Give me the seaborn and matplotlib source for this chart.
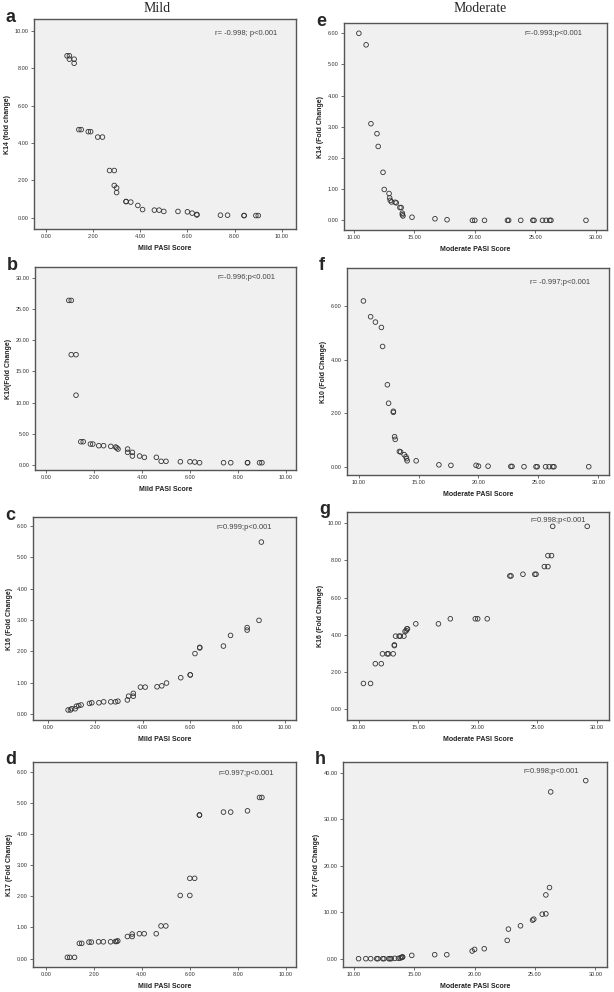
import numpy as np
import pandas as pd
import seaborn as sns
import matplotlib.pyplot as plt
from matplotlib.ticker import FormatStrFormatter

# ---- Data ----
# a: K14 vs mild PASI
a_x = [0.9, 1.0, 1.0, 1.2, 1.2, 1.4, 1.5, 1.8, 1.9, 2.2, 2.4, 2.7, 2.9, 2.9, 3.0, 3.0, 3.4, 3.4, 3.6,
       3.9, 4.1, 4.6, 4.8, 5.0, 5.6, 6.0, 6.2, 6.4, 6.4, 7.4, 7.7, 8.4, 8.4, 8.9, 9.0]
a_y = [8.67, 8.67, 8.49, 8.49, 8.27, 4.72, 4.72, 4.61, 4.61, 4.32, 4.32, 2.53, 2.53, 1.73, 1.60, 1.35,
       0.87, 0.87, 0.84, 0.66, 0.44, 0.41, 0.41, 0.34, 0.34, 0.32, 0.25, 0.18, 0.15, 0.14, 0.14, 0.12,
       0.12, 0.12, 0.12]
# b: K10 vs mild PASI
b_x = [0.95, 1.05, 1.05, 1.25, 1.25, 1.45, 1.55, 1.85, 1.95, 2.2, 2.4, 2.7, 2.9, 2.95, 3.0, 3.4, 3.4,
       3.6, 3.6, 3.9, 4.1, 4.6, 4.8, 5.0, 5.6, 6.0, 6.2, 6.4, 7.4, 7.7, 8.4, 8.4, 8.9, 9.0]
b_y = [26.4, 26.4, 17.7, 17.7, 11.2, 3.74, 3.74, 3.36, 3.36, 3.10, 3.10, 2.99, 2.88, 2.75, 2.56, 2.56,
       2.03, 2.03, 1.44, 1.44, 1.23, 1.23, 0.59, 0.59, 0.53, 0.53, 0.48, 0.37, 0.37, 0.37, 0.37, 0.37,
       0.37, 0.37]
# c: K16 vs mild PASI
c_x = [0.85, 0.95, 1.0, 1.15, 1.2, 1.3, 1.4, 1.75, 1.85, 2.15, 2.35, 2.65, 2.85, 2.95, 3.35, 3.4, 3.6,
       3.6, 3.9, 4.1, 4.6, 4.8, 5.0, 5.6, 6.0, 6.0, 6.2, 6.4, 6.4, 7.4, 7.7, 8.4, 8.4, 8.9, 9.0]
c_y = [0.13, 0.13, 0.17, 0.17, 0.25, 0.27, 0.29, 0.34, 0.36, 0.36, 0.39, 0.39, 0.39, 0.41, 0.45, 0.57,
       0.57, 0.66, 0.86, 0.86, 0.87, 0.90, 0.99, 1.16, 1.25, 1.25, 1.93, 2.11, 2.13, 2.17, 2.51, 2.68,
       2.76, 2.99, 5.49]
# d: K17 vs mild PASI
d_x = [0.9, 1.0, 1.2, 1.4, 1.5, 1.8, 1.9, 2.2, 2.4, 2.7, 2.9, 2.95, 3.0, 3.4, 3.6, 3.6, 3.9, 4.1, 4.6,
       4.8, 5.0, 5.6, 6.0, 6.0, 6.2, 6.4, 6.4, 7.4, 7.7, 8.4, 8.9, 9.0]
d_y = [0.04, 0.04, 0.04, 0.49, 0.49, 0.53, 0.53, 0.54, 0.54, 0.54, 0.55, 0.55, 0.57, 0.71, 0.71, 0.79,
       0.80, 0.80, 0.80, 1.05, 1.05, 2.03, 2.03, 2.58, 2.58, 4.62, 4.61, 4.71, 4.71, 4.75, 5.18, 5.18]
# e: K14 vs moderate PASI
e_x = [10.4, 11.0, 11.4, 11.9, 12.0, 12.4, 12.5, 12.9, 12.95, 13.0, 13.1, 13.4, 13.5, 13.8, 13.9,
       14.0, 14.0, 14.05, 14.8, 16.7, 17.7, 19.8, 20.0, 20.8, 22.7, 22.8, 23.8, 24.8, 24.9, 25.6, 25.9,
       26.2, 26.3, 29.2]
e_y = [6.0, 5.63, 3.10, 2.78, 2.37, 1.54, 0.99, 0.86, 0.72, 0.64, 0.59, 0.58, 0.56, 0.41, 0.41, 0.23,
       0.18, 0.14, 0.10, 0.05, 0.02, 0.0, 0.0, 0.0, 0.0, 0.0, 0.0, 0.0, 0.0, 0.0, 0.0, 0.0, 0.0, 0.0]
# f: K10 vs moderate PASI
f_x = [10.4, 11.0, 11.4, 11.9, 12.0, 12.4, 12.5, 12.9, 12.9, 13.0, 13.05, 13.4, 13.5, 13.8, 13.95,
       14.0, 14.05, 14.8, 16.7, 17.7, 19.8, 20.0, 20.8, 22.7, 22.8, 23.8, 24.8, 24.9, 25.6, 25.9, 26.2,
       26.3, 29.2]
f_y = [6.19, 5.60, 5.40, 5.20, 4.49, 3.06, 2.37, 2.07, 2.03, 1.12, 1.02, 0.57, 0.55, 0.45, 0.37, 0.30,
       0.22, 0.22, 0.07, 0.05, 0.05, 0.02, 0.02, 0.01, 0.01, 0.0, 0.0, 0.0, 0.0, 0.0, 0.0, 0.0, 0.0]
# g: K16 vs moderate PASI
g_x = [10.4, 11.0, 11.4, 11.9, 12.0, 12.4, 12.5, 12.9, 13.0, 13.0, 13.1, 13.4, 13.5, 13.8, 13.9,
       14.0, 14.05, 14.1, 14.8, 16.7, 17.7, 19.8, 20.0, 20.8, 22.7, 22.8, 23.8, 24.8, 24.9, 25.6, 25.9,
       25.9, 26.2, 26.3, 29.2]
g_y = [1.39, 1.39, 2.45, 2.45, 2.98, 2.98, 2.98, 2.98, 3.46, 3.42, 3.93, 3.93, 3.93, 3.93, 4.18, 4.22,
       4.32, 4.32, 4.59, 4.59, 4.86, 4.86, 4.86, 4.86, 7.16, 7.16, 7.25, 7.25, 7.25, 7.66, 7.66, 8.25,
       8.25, 9.82, 9.82]
# h: K17 vs moderate PASI
h_x = [10.4, 11.0, 11.4, 11.9, 12.0, 12.4, 12.5, 12.9, 13.0, 13.1, 13.4, 13.7, 13.85, 13.95, 14.0,
       14.05, 14.8, 16.7, 17.7, 19.8, 20.0, 20.8, 22.7, 22.8, 23.8, 24.8, 24.9, 25.6, 25.9, 25.9, 26.2,
       26.3, 29.2]
h_y = [0.0, 0.0, 0.0, 0.0, 0.0, 0.0, 0.0, 0.0, 0.0, 0.0, 0.07, 0.07, 0.14, 0.25, 0.36, 0.36, 0.71,
       0.86, 0.86, 1.64, 2.0, 2.14, 3.93, 6.36, 7.07, 8.29, 8.5, 9.57, 9.64, 13.71, 15.29, 35.86, 38.29]

mild_ticks = [0, 2, 4, 6, 8, 10]
mod_ticks = [10, 15, 20, 25, 30]

# panel: letter, data, labels, annotation (+ position in axes fraction), pixel box, limits, ticks
panels = [
    ("a", a_x, a_y, "Mild PASI Score", "K14 (fold change)", "r= -0.998; p<0.001", (0.927, 0.933),
     (34, 19, 296, 229), (-0.5, 10.6), (-0.6, 10.64), [0, 2, 4, 6, 8, 10], mild_ticks),
    ("b", b_x, b_y, "Mild PASI Score", "K10(Fold Change)", "r=-0.996;p<0.001", (0.92, 0.946),
     (35, 267, 296, 470), (-0.46, 10.42), (-0.8, 31.76), [0, 5, 10, 15, 20, 25, 30], mild_ticks),
    ("c", c_x, c_y, "Mild PASI Score", "K16 (Fold Change)", "r=0.999;p<0.001", (0.91, 0.95),
     (33, 517, 296, 720), (-0.63, 10.46), (-0.19, 6.29), [0, 1, 2, 3, 4, 5, 6], mild_ticks),
    ("d", d_x, d_y, "Mild PASI Score", "K17 (Fold Change)", "r=0.997;p<0.001", (0.916, 0.946),
     (33, 762, 296, 967), (-0.53, 10.42), (-0.27, 6.32), [0, 1, 2, 3, 4, 5, 6], mild_ticks),
    ("e", e_x, e_y, "Moderate PASI Score", "K14 (Fold Change)", "r=-0.993;p<0.001", (0.905, 0.947),
     (344, 23, 607, 230), (9.17, 30.94), (-0.31, 6.33), [0, 1, 2, 3, 4, 5, 6], mod_ticks),
    ("f", f_x, f_y, "Moderate PASI Score", "K10 (Fold Change)", "r= -0.997;p<0.001", (0.927, 0.93),
     (347, 268, 609, 475), (9.03, 30.89), (-0.31, 7.42), [0, 2, 4, 6], mod_ticks),
    ("g", g_x, g_y, "Moderate PASI Score", "K16 (Fold Change)", "r=0.998;p<0.001", (0.912, 0.96),
     (347, 512, 609, 720), (9.02, 31.03), (-0.57, 10.59), [0, 2, 4, 6, 8, 10], mod_ticks),
    ("h", h_x, h_y, "Moderate PASI Score", "K17 (Fold Change)", "r=0.998;p<0.001", (0.894, 0.956),
     (343, 762, 607, 967), (9.11, 30.96), (-1.79, 42.29), [0, 10, 20, 30, 40], mod_ticks),
]

# ---- Style ----
sns.set_style("ticks")
plt.rcParams['font.family'] = ['Liberation Sans', 'DejaVu Sans']
plt.rcParams['axes.edgecolor'] = '#555555'
plt.rcParams['axes.linewidth'] = 1.0

W, H = 614, 992
fig = plt.figure(figsize=(W / 100, H / 100), dpi=100)
fig.patch.set_facecolor('white')

for letter, xs, ys, xlab, ylab, note, note_pos, box, xlim, ylim, yticks, xticks in panels:
    l, t, r, b = box
    ax = fig.add_axes([l / W, 1 - b / H, (r - l) / W, (b - t) / H])
    ax.set_facecolor('#f0f0f0')
    df = pd.DataFrame({'x': xs, 'y': ys})
    sns.scatterplot(data=df, x='x', y='y', ax=ax, marker='o', s=11,
                    facecolor='none', edgecolor='#333333', linewidth=0.6)
    ax.set_xlim(*xlim)
    ax.set_ylim(*ylim)
    ax.set_xticks(xticks)
    ax.set_yticks(yticks)
    ax.xaxis.set_major_formatter(FormatStrFormatter('%.2f'))
    ax.yaxis.set_major_formatter(FormatStrFormatter('%.2f'))
    ax.tick_params(axis='both', labelsize=4, length=2.2, width=0.6, pad=1.5,
                   color='#555555', labelcolor='#333333')
    ax.set_xlabel(xlab, fontsize=5, fontweight='bold', labelpad=4, color='#222222')
    ax.set_ylabel(ylab, fontsize=5, fontweight='bold', labelpad=3, color='#222222')
    for sp in ax.spines.values():
        sp.set_visible(True)
    ax.text(note_pos[0], note_pos[1], note, transform=ax.transAxes, ha='right', va='center',
            fontsize=5.5, color='#444444')
    fig.text((l - 28) / W, 1 - (t - 2) / H, letter, fontsize=13, fontweight='bold',
             ha='left', va='center')

fig.text(157 / W, 1 - 8 / H, "Mild", family='Liberation Serif', fontsize=10,
         ha='center', va='center')
fig.text(480 / W, 1 - 8 / H, "Moderate", family='Liberation Serif', fontsize=10,
         ha='center', va='center')

plt.savefig('out.png', dpi=100)
plt.close()
